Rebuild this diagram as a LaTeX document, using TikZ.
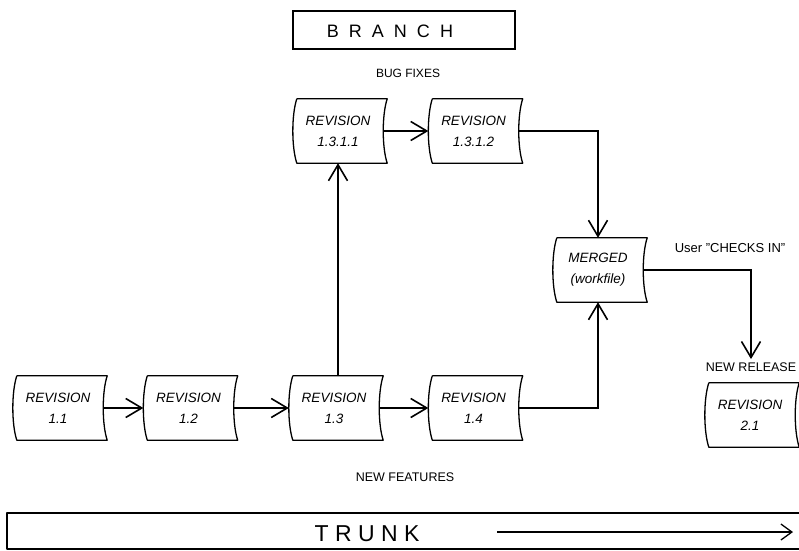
\documentclass[tikz,border=0pt]{standalone}
\usepackage{fontspec}
\setmainfont{Liberation Sans}
\newfontfamily\bannerfont[WordSpace=2]{Liberation Sans}
\usetikzlibrary{arrows.meta,calc}

\begin{document}
\begin{tikzpicture}[x=1pt, y=-1pt,
  rev/.style={minimum width=90pt, minimum height=64pt, inner sep=0pt, align=center, font=\fontsize{13.5}{21}\selectfont\itshape},
  revline/.style={line width=1.3pt, line join=round},
  link/.style={line width=1.6pt, -{Straight Barb[length=16pt,width=19pt]}},
  tag/.style={font=\fontsize{12.5}{14}\selectfont},
  titlebox/.style={draw, line width=1.2pt, minimum width=222pt, minimum height=38pt, inner sep=0pt},
  bannertext/.style={inner sep=0pt}
]
  \useasboundingbox (0,0) rectangle (799,550);

  \node[titlebox] (branch) at (404,30) {};
  \node[bannertext, font=\bannerfont\fontsize{18}{18}\selectfont] (branchlbl) at (390,31) {B R A N C H};
  \node[tag, font=\fontsize{12}{14}\selectfont] (bugfix) at (408,73) {BUG FIXES};

  \node[rev] (r1311) at (338,131) {REVISION\\1.3.1.1};
  \node[rev] (r1312) at (473.5,131) {REVISION\\1.3.1.2};
  \node[rev] (merged) at (598,270) {MERGED\\(workfile)};
  \node[rev] (r11) at (58,408) {REVISION\\1.1};
  \node[rev] (r12) at (188.5,408) {REVISION\\1.2};
  \node[rev] (r13) at (334,408) {REVISION\\1.3};
  \node[rev] (r14) at (473.5,408) {REVISION\\1.4};
  \node[rev] (r21) at (750,415) {REVISION\\2.1};

  \foreach \n in {r1311,r1312,merged,r11,r12,r13,r14,r21}
    \draw[revline] ($(\n.north west)+(4,0)$) -- ($(\n.north east)+(4,0)$)
      .. controls +(-5.3,16) and +(-5.3,-16) .. ($(\n.south east)+(4,0)$)
      -- ($(\n.south west)+(4,0)$)
      .. controls +(-5.3,-16) and +(-5.3,16) .. ($(\n.north west)+(4,0)$);

  \node[tag, font=\fontsize{13}{15}\selectfont] (checkin) at (730,248) {User "CHECKS IN"};
  \node[tag] (newrel) at (751,367) {NEW RELEASE};
  \node[tag] (newfeat) at (405,477) {NEW FEATURES};

  \draw[link] (r11) -- (r12);
  \draw[link] (r12) -- (r13);
  \draw[link] (r13) -- (r14);
  \draw[link] (r1311.south |- r13.north) -- (r1311.south);
  \draw[link] (r1311) -- (r1312);
  \draw[link] (r1312.east) -| (merged.north);
  \draw[link] (r14.east) -| (merged.south);
  \draw[link] (merged.east) -| (newrel.north);

  \draw[revline] (799,513) -- (7,513) -- (7,549) -- (799,549);
  \node[bannertext, font=\fontsize{23}{23}\selectfont] (trunklbl) at (367,534) {T R U N K};
  \coordinate (trunkA) at (497,532);
  \coordinate (trunkB) at (793,532);
  \draw[line width=1.3pt, -{Straight Barb[length=11pt,width=16pt]}] (trunkA) -- (trunkB);
\end{tikzpicture}
\end{document}
